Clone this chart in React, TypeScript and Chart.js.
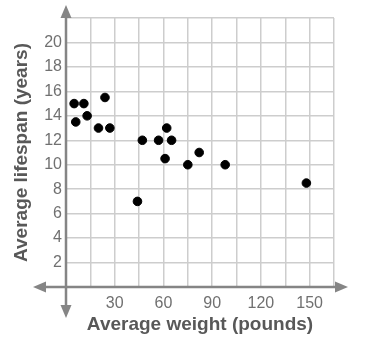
import React, { useEffect, useRef } from "react";
import { Chart, registerables } from "chart.js";

Chart.register(...registerables);

const weights = [5, 6, 11, 13, 20, 24, 27, 44, 47, 57, 61, 62, 65, 75, 82, 98, 148];
const lifespans = [15, 13.5, 15, 14, 13, 15.5, 13, 7, 12, 12, 10.5, 13, 12, 10, 11, 10, 8.5];

const xLabels = [30, 60, 90, 120, 150];
const yLabels = [2, 4, 6, 8, 10, 12, 14, 16, 18, 20];

const X_MAX = 165;
const Y_MAX = 22;
const X_TITLE = "Average weight (pounds)";
const Y_TITLE = "Average lifespan (years)";

const AXIS_COLOR = "#858585";
const FONT = "'Liberation Sans', Arial, sans-serif";

const axisArrows = {
  id: "axisArrows",
  afterDraw(chart: any) {
    const { ctx, chartArea, scales } = chart;
    const x0 = scales.x.getPixelForValue(0);
    const y0 = scales.y.getPixelForValue(0);
    const left = chartArea.left - 33;
    const right = chartArea.right + 14;
    const top = chartArea.top - 13;
    const bottom = chartArea.bottom + 31;
    ctx.save();
    ctx.strokeStyle = AXIS_COLOR;
    ctx.fillStyle = AXIS_COLOR;
    ctx.lineWidth = 2.5;
    ctx.beginPath();
    ctx.moveTo(left + 6, y0);
    ctx.lineTo(right - 6, y0);
    ctx.moveTo(x0, top + 6);
    ctx.lineTo(x0, bottom - 6);
    ctx.stroke();
    const head = (tx: number, ty: number, dx: number, dy: number) => {
      const L = 13, W = 5.5;
      const bx = tx - dx * L, by = ty - dy * L;
      ctx.beginPath();
      ctx.moveTo(tx, ty);
      ctx.lineTo(bx - dy * W, by + dx * W);
      ctx.lineTo(bx + dy * W, by - dx * W);
      ctx.closePath();
      ctx.fill();
    };
    head(left, y0, -1, 0);
    head(right, y0, 1, 0);
    head(x0, top, 0, -1);
    head(x0, bottom, 0, 1);
    ctx.restore();
  },
};

export default function App() {
  const ref = useRef<HTMLCanvasElement>(null);
  useEffect(() => {
    document.body.style.margin = "0";
    const chart = new Chart(ref.current!, {
      type: "scatter",
      data: {
        datasets: [
          {
            data: weights.map((w, i) => ({ x: w, y: lifespans[i] })),
            backgroundColor: "#000",
            borderColor: "#000",
            pointRadius: 4.3,
          },
        ],
      },
      options: {
        responsive: false,
        animation: false,
        layout: { padding: { top: 18, right: 32, left: 0, bottom: 0 } },
        plugins: { legend: { display: false }, tooltip: { enabled: false } },
        scales: {
          x: {
            type: "linear",
            min: 0,
            max: X_MAX,
            afterFit: (s: any) => {
              s.height = 66;
            },
            ticks: {
              stepSize: 15,
              autoSkip: false,
              maxRotation: 0,
              padding: 7,
              color: "#707070",
              font: { family: FONT, size: 16 },
              callback: (v: any) => (xLabels.includes(Number(v)) ? String(v) : ""),
            },
            grid: { color: "#cdcdcd", lineWidth: 1.5, drawTicks: false },
            border: { display: false },
            title: {
              display: true,
              text: X_TITLE,
              color: "#585858",
              font: { family: FONT, size: 19, weight: "bold" },
              padding: { top: 0, bottom: 17 },
            },
          },
          y: {
            type: "linear",
            min: 0,
            max: Y_MAX,
            afterFit: (s: any) => {
              s.width = 66;
            },
            ticks: {
              stepSize: 2,
              autoSkip: false,
              padding: 4,
              color: "#707070",
              font: { family: FONT, size: 16 },
              callback: (v: any) => (yLabels.includes(Number(v)) ? String(v) : ""),
            },
            grid: { color: "#cdcdcd", lineWidth: 1.5, drawTicks: false },
            border: { display: false },
            title: {
              display: true,
              text: Y_TITLE,
              color: "#585858",
              font: { family: FONT, size: 19, weight: "bold" },
              padding: { top: 10, bottom: 0 },
            },
          },
        },
      },
      plugins: [axisArrows],
    });
    return () => chart.destroy();
  }, []);
  return (
    <div style={{ position: "absolute", left: 0, top: 0, width: 366, height: 353, background: "#fff" }}>
      <canvas ref={ref} width={366} height={353} />
    </div>
  );
}
